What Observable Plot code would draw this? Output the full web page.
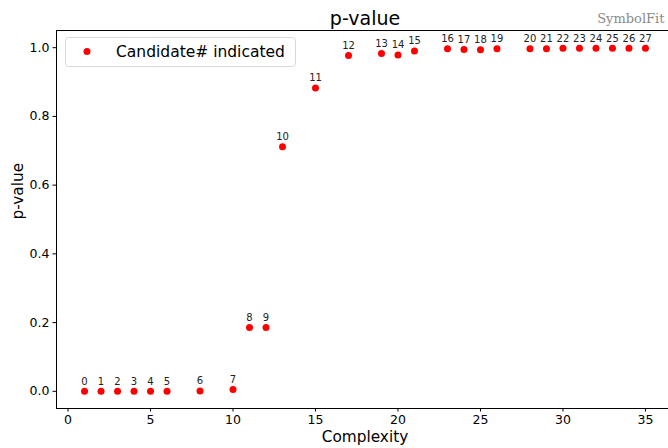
<!DOCTYPE html>
<html>
<head>
<meta charset="utf-8">
<script src="https://cdn.jsdelivr.net/npm/d3@7"></script>
<script src="https://cdn.jsdelivr.net/npm/@observablehq/plot@0.6"></script>
<style>
  html, body { margin: 0; padding: 0; background: #fff; }
  svg { display: block; }
</style>
</head>
<body>
<div id="chart"></div>
<script>
const candidates = [0,1,2,3,4,5,6,7,8,9,10,11,12,13,14,15,16,17,18,19,20,21,22,23,24,25,26,27];
const complexity = [1,2,3,4,5,6,8,10,11,12,13,15,17,19,20,21,23,24,25,26,28,29,30,31,32,33,34,35];
const pvalues = [0.0,0.0,0.0,0.0,0.0,0.0,0.001,0.005,0.186,0.186,0.712,0.883,0.977,0.983,0.979,0.990,0.997,0.995,0.994,0.997,0.997,0.997,0.998,0.998,0.998,0.998,0.998,0.998];
const xTicks = [0,5,10,15,20,25,30,35];
const yTicks = [0.0,0.2,0.4,0.6,0.8,1.0];
const titleText = "p-value";
const xLabel = "Complexity";
const yLabel = "p-value";
const legendLabel = "Candidate# indicated";
const watermark = "SymbolFit";

const data = candidates.map((c, i) => ({cand: c, x: complexity[i], p: pvalues[i]}));

const xDomain = [-0.7, 36.7];
const yDomain = [-0.05, 1.05];

const chart = Plot.plot({
  width: 668,
  height: 448,
  marginLeft: 56,
  marginRight: -5,
  marginTop: 30,
  marginBottom: 40,
  style: {fontFamily: "DejaVu Sans", fontSize: "12.5px", color: "#000", background: "#fff", overflow: "visible"},
  x: {domain: xDomain},
  y: {domain: yDomain},
  marks: [
    Plot.axisX({ticks: xTicks, tickSize: 3.5, tickPadding: 3.5, label: null, stroke: "#000", fill: "#000"}),
    Plot.axisY({ticks: yTicks, tickSize: 3.5, tickPadding: 3.5, tickFormat: d3.format(".1f"), label: null, stroke: "#000", fill: "#000"}),
    Plot.ruleX([xDomain[0]], {stroke: "#000", strokeWidth: 1}),
    Plot.ruleY([yDomain[0]], {stroke: "#000", strokeWidth: 1}),
    Plot.ruleY([yDomain[1]], {stroke: "#000", strokeWidth: 1}),
    Plot.dot(data, {x: "x", y: "p", r: 3.5, fill: "#ff0000", stroke: "none"}),
    Plot.text(data, {x: "x", y: "p", text: d => String(d.cand), dy: -10, fontSize: 10, fill: "#222"}),
    Plot.text([titleText], {frameAnchor: "top", lineAnchor: "middle", dy: -12, fontSize: 19, fill: "#000"}),
    Plot.text([watermark], {frameAnchor: "top-right", lineAnchor: "middle", dx: -9, dy: -12, textAnchor: "end", fontSize: 13, fontFamily: "DejaVu Serif", fill: "#8a8a8a"}),
    Plot.text([xLabel], {frameAnchor: "bottom", lineAnchor: "middle", dy: 29, fontSize: 15.3, fill: "#000"}),
    Plot.text([yLabel], {frameAnchor: "left", lineAnchor: "middle", dx: -38, rotate: -90, fontSize: 15.3, fill: "#000"})
  ]
});

// Legend box (drawn inside the frame, top-left, like matplotlib's legend)
const svg = d3.select(chart);
const xs = chart.scale("x"), ys = chart.scale("y");
const fx = Math.min(...xs.range), fy = Math.min(...ys.range);
const g = svg.append("g").attr("text-anchor", "start");
g.append("rect")
  .attr("x", fx + 9.5).attr("y", fy + 7.5)
  .attr("width", 230).attr("height", 29)
  .attr("rx", 3).attr("ry", 3)
  .attr("fill", "#fff").attr("fill-opacity", 0.8)
  .attr("stroke", "#d9d9d9").attr("stroke-width", 1);
g.append("circle")
  .attr("cx", fx + 31).attr("cy", fy + 21.5).attr("r", 3.5)
  .attr("fill", "#ff0000");
g.append("text")
  .attr("x", fx + 60).attr("y", fy + 21.5)
  .attr("dy", "0.35em")
  .attr("text-anchor", "start")
  .attr("font-family", "DejaVu Sans").attr("font-size", 15.5)
  .attr("fill", "#000")
  .text(legendLabel);

document.getElementById("chart").appendChild(chart);
</script>
</body>
</html>
